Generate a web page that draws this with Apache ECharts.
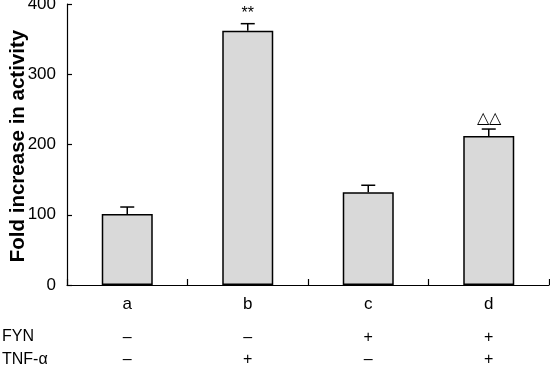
<!DOCTYPE html>
<html><head><meta charset="utf-8">
<script src="https://cdn.jsdelivr.net/npm/echarts@6/dist/echarts.min.js"></script>
<style>html,body{margin:0;padding:0;background:#fff}#c{width:550px;height:365px}</style>
</head><body><div id="c"></div>
<script>
var categories = ['a', 'b', 'c', 'd'];
var values = [101, 362, 132, 212];
var errors = [10, 10, 10, 10];
var marks = ['', '**', '', '△△'];
var fynRow = ['–', '–', '+', '+'];
var tnfRow = ['–', '+', '–', '+'];
var rowLabels = ['FYN', 'TNF-α'];
var yTitle = 'Fold increase in activity';
var yTicks = [0, 100, 200, 300, 400];

var font = 'Liberation Sans, Arial, sans-serif';
var chart = echarts.init(document.getElementById('c'));
function hiddenAxis(data, offset) {
  return {
    type: 'category', data: data, position: 'bottom', offset: offset,
    axisLine: {show: false}, axisTick: {show: false},
    axisLabel: {color: '#000', fontSize: 16, fontFamily: font, margin: 8}
  };
}
chart.setOption({
  animation: false,
  grid: {left: 67, right: 1, top: 4, bottom: 80, containLabel: false, outerBoundsMode: 'none'},
  xAxis: [
    {
      type: 'category', data: categories, position: 'bottom',
      axisLine: {lineStyle: {color: '#000', width: 1.2}},
      axisTick: {show: true, inside: true, length: 6, alignWithLabel: false, lineStyle: {color: '#000', width: 1.2}},
      axisLabel: {color: '#000', fontSize: 17, fontFamily: font, margin: 11}
    },
    hiddenAxis(fynRow, 37),
    hiddenAxis(tnfRow, 59)
  ],
  yAxis: {
    type: 'value', min: yTicks[0], max: yTicks[yTicks.length - 1], interval: 100,
    axisLine: {show: true, lineStyle: {color: '#000', width: 1.2}},
    axisTick: {show: true, inside: true, length: 5, lineStyle: {color: '#000', width: 1.2}},
    splitLine: {show: false},
    axisLabel: {color: '#000', fontSize: 17, fontFamily: font, margin: 11}
  },
  graphic: [
    {type: 'text', x: 18, y: 146, rotation: Math.PI / 2,
     style: {text: yTitle, fill: '#000', font: 'bold 20.5px ' + font, textAlign: 'center', textVerticalAlign: 'middle'}},
    {type: 'text', left: 2, top: 329, style: {text: rowLabels[0], fill: '#000', font: '16px ' + font}},
    {type: 'text', left: 2, top: 352, style: {text: rowLabels[1], fill: '#000', font: '16px ' + font}}
  ],
  series: [
    {
      type: 'bar', data: values, barWidth: 51, xAxisIndex: 0,
      itemStyle: {color: '#d9d9d9', borderColor: '#000', borderWidth: 1.5},
      z: 2
    },
    {
      type: 'custom', xAxisIndex: 0, z: 3,
      data: categories.map(function (c, i) { return [i, values[i], errors[i]]; }),
      renderItem: function (params, api) {
        var x = api.coord([api.value(0), 0])[0];
        var yTop = api.coord([api.value(0), api.value(1)])[1];
        var yErr = api.coord([api.value(0), api.value(1) + api.value(2)])[1];
        var mark = marks[params.dataIndex];
        var children = [
          {type: 'line', shape: {x1: x, y1: yTop, x2: x, y2: yErr}, style: {stroke: '#000', lineWidth: 1.5}},
          {type: 'line', shape: {x1: x - 7, y1: yErr, x2: x + 7, y2: yErr}, style: {stroke: '#000', lineWidth: 1.5}}
        ];
        if (mark) {
          children.push({type: 'text', x: x, y: yErr - 2, style: {text: mark, fill: '#000', font: '16px ' + font, textAlign: 'center', textVerticalAlign: 'bottom'}});
        }
        return {type: 'group', children: children};
      }
    }
  ]
});
</script></body></html>
